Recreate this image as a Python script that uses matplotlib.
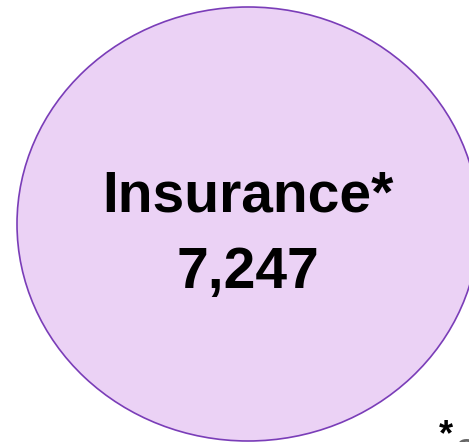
import matplotlib
matplotlib.use("Agg")
import matplotlib.pyplot as plt
from matplotlib.patches import Ellipse

categories = ["Insurance*"]
values = [7247]
footnote_mark = "*"
footnote_text = "o"

family = ["Liberation Sans", "DejaVu Sans"]

W, H = 469, 442
fig = plt.figure(figsize=(W / 100, H / 100), dpi=100)
ax = fig.add_axes([0, 0, 1, 1])
ax.set_xlim(0, W)
ax.set_ylim(H, 0)
ax.axis("off")

cx, cy = 248, 224
ell = Ellipse((cx, cy), 462, 434, facecolor="#EBD2F5", edgecolor="#7A3DB8", linewidth=1.2)
ax.add_patch(ell)

ax.text(cx, 212, categories[0], ha="center", va="baseline", fontsize=41,
        fontweight="bold", family=family, color="black")
ax.text(cx, 288, f"{values[0]:,}", ha="center", va="baseline", fontsize=41,
        fontweight="bold", family=family, color="black")

ax.text(439, 445, footnote_mark, ha="left", va="baseline", fontsize=26,
        fontweight="bold", family=family, color="black")
ax.text(454, 462, footnote_text, ha="left", va="baseline", fontsize=30,
        family=family, color="#666666", clip_on=False)

fig.savefig("out.png", dpi=100)
